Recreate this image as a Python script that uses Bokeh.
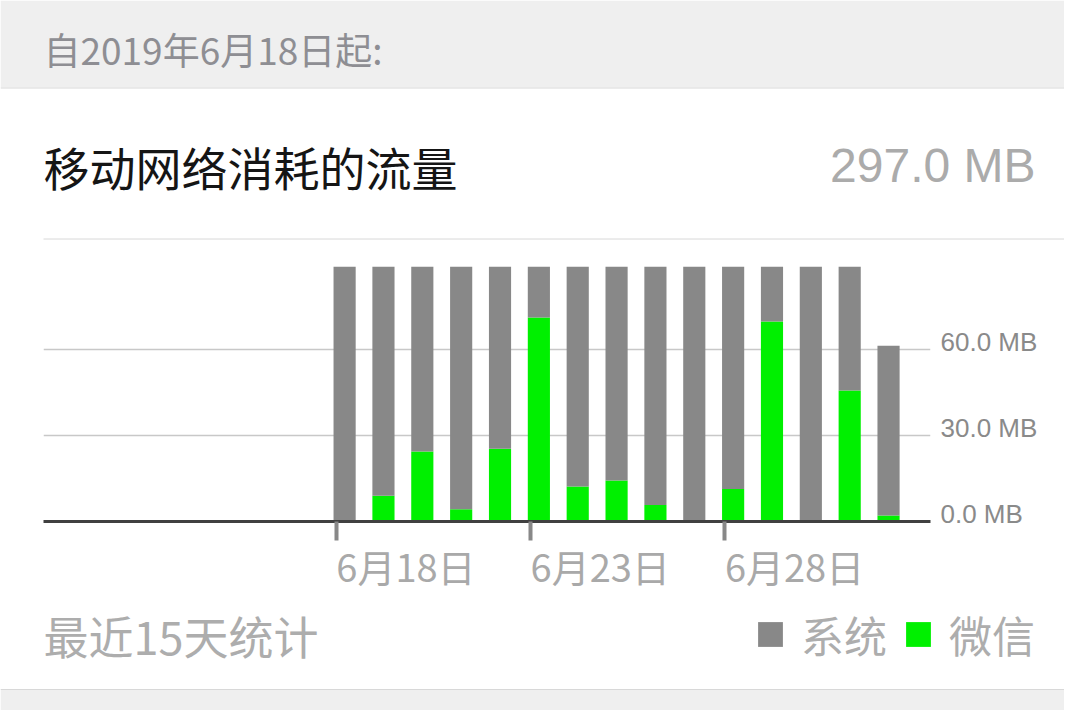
from bokeh.plotting import figure
from bokeh.models import (ColumnDataSource, FixedTicker, LinearAxis, Label,
                          Legend, LegendItem, Range1d)
from bokeh.embed import file_html
from bokeh.resources import INLINE

# ---------------- data ----------------
header_text = "自2019年6月18日起:"
title_text = "移动网络消耗的流量"
total_text = "297.0 MB"
footer_text = "最近15天统计"
dates = ["6月18日", "6月19日", "6月20日", "6月21日", "6月22日", "6月23日", "6月24日",
         "6月25日", "6月26日", "6月27日", "6月28日", "6月29日", "6月30日", "7月1日", "7月2日"]
wechat = [0.0, 9.0, 24.4, 4.3, 25.4, 71.2, 12.2, 14.3, 5.8, 0.0, 11.3, 69.8, 0.3, 45.7, 2.1]
system = [95.0, 86.0, 71.0, 91.0, 70.0, 24.0, 83.0, 81.0, 89.0, 95.0, 84.0, 26.0, 95.0, 50.0, 59.2]
series_names = ["系统", "微信"]
y_ticks = [0, 30, 60]
x_tick_idx = [0, 5, 10]

# ---------------- style ----------------
CJK = "Noto Sans CJK SC"
LAT = "Liberation Sans"
GREEN = "#00f000"
GRAY = "#888888"
BAND = "#efefef"
LINE = "#d8d8d8"
W = 1064
H_HEAD, H_CHART, H_FOOT = 240, 360, 110


def canvas_fig(height, y0, y1):
    f = figure(width=W, height=height, output_backend="svg", toolbar_location=None,
               x_range=Range1d(0, W), y_range=Range1d(y1, y0),
               x_axis_type=None, y_axis_type=None, min_border=0,
               min_border_left=0, min_border_right=0, min_border_top=0, min_border_bottom=0,
               outline_line_color=None, background_fill_color="white",
               border_fill_color="white")
    f.xgrid.visible = False
    f.ygrid.visible = False
    return f


# ---------------- header ----------------
head = canvas_fig(H_HEAD, 0, H_HEAD)
head.quad(left=[0], right=[W], top=[0], bottom=[87], fill_color=BAND, line_color=None)
head.segment(x0=[0, 43], y0=[87.5, 238.5], x1=[W, W], y1=[87.5, 238.5],
             line_color=LINE, line_width=1)
head.add_layout(Label(x=43, y=48, text=header_text, text_font=CJK, text_font_size="37px",
                      text_color="#8e8e93", text_baseline="middle", text_align="left"))
head.add_layout(Label(x=43, y=165, text=title_text, text_font=CJK, text_font_size="46px",
                      text_color="#151515", text_baseline="middle", text_align="left"))
head.add_layout(Label(x=1035, y=165, text=total_text, text_font=LAT, text_font_size="48px",
                      text_color="#ababab", text_baseline="middle", text_align="right"))

# ---------------- chart ----------------
day = list(range(len(dates)))
src = ColumnDataSource(dict(x=[d + 0.22 for d in day], wechat=wechat, system=system, date=dates))

p = figure(width=W, height=H_CHART, output_backend="svg", toolbar_location=None,
           x_range=Range1d(-7.53, 15.3), y_range=Range1d(0, 89),
           y_axis_location="right",
           min_border_left=43, min_border_right=134, min_border_top=26, min_border_bottom=79,
           outline_line_color=None, border_fill_color="white", background_fill_color="white")

rs = p.vbar_stack(["wechat", "system"], x="x", width=0.57, source=src,
                  fill_color=[GREEN, GRAY], line_color=None)

p.xgrid.visible = False
p.ygrid.ticker = FixedTicker(ticks=[t for t in y_ticks if t > 0])
p.ygrid.grid_line_color = "#c8c8c8"
p.ygrid.grid_line_width = 1.5

xax = p.xaxis[0]
xax.ticker = FixedTicker(ticks=x_tick_idx)
xax.axis_line_color = "#404040"
xax.axis_line_width = 3
xax.major_tick_out = 19
xax.major_tick_in = 0
xax.major_tick_line_color = "#888888"
xax.major_tick_line_width = 4
xax.minor_tick_line_color = None
xax.major_label_text_font_size = "1px"
xax.major_label_text_alpha = 0
xax.major_label_standoff = 0

off = 1.8
xlab = LinearAxis(ticker=FixedTicker(ticks=[i + off for i in x_tick_idx]),
                  major_label_overrides={i + off: dates[i] for i in x_tick_idx},
                  axis_line_color=None, major_tick_line_color=None, minor_tick_line_color=None,
                  major_tick_out=0, major_tick_in=0,
                  major_label_text_font=CJK, major_label_text_font_size="38px",
                  major_label_text_color="#a9a9a9", major_label_standoff=-3)
p.add_layout(xlab, "below")

yoff = 2.5
yax = p.yaxis[0]
yax.ticker = FixedTicker(ticks=[v + yoff for v in y_ticks])
yax.major_label_overrides = {v + yoff: f"{v:.1f} MB" for v in y_ticks}
yax.axis_line_color = None
yax.major_tick_line_color = None
yax.minor_tick_line_color = None
yax.major_label_standoff = 4
yax.major_label_text_font = LAT
yax.major_label_text_font_size = "26px"
yax.major_label_text_color = "#8a8a8a"

# ---------------- footer ----------------
foot = canvas_fig(H_FOOT, 600, 600 + H_FOOT)
foot.quad(left=[0], right=[W], top=[689], bottom=[600 + H_FOOT], fill_color=BAND, line_color=None)
foot.segment(x0=[0], y0=[689], x1=[W], y1=[689], line_color=LINE, line_width=1)
foot.add_layout(Label(x=43, y=635, text=footer_text, text_font=CJK, text_font_size="45px",
                      text_color="#adadad", text_baseline="middle", text_align="left"))
# legend swatches (kept outside the visible range; only their legend glyphs show)
leg_sys = foot.scatter(x=[-500], y=[650], marker="square", fill_color=GRAY, line_color=None)
leg_wx = foot.scatter(x=[-500], y=[650], marker="square", fill_color=GREEN, line_color=None)
legend = Legend(items=[LegendItem(label=series_names[0], renderers=[leg_sys]),
                       LegendItem(label=series_names[1], renderers=[leg_wx])],
                location=(739, 42), orientation="horizontal",
                glyph_width=62, glyph_height=68, label_standoff=0, spacing=0,
                padding=0, margin=0, border_line_color=None, background_fill_alpha=0,
                label_text_font=CJK, label_text_font_size="43px",
                label_text_color="#adadad", label_text_baseline="middle")
foot.add_layout(legend)

open("out.html", "w").write(file_html([head, p, foot], INLINE))
